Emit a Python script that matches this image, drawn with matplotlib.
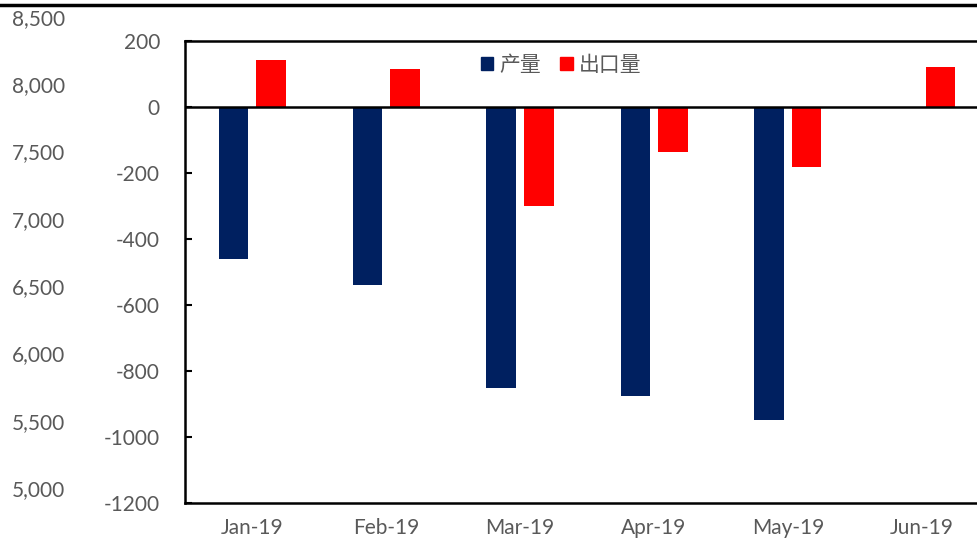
import numpy as np
import matplotlib
matplotlib.use("Agg")
import matplotlib.pyplot as plt
from matplotlib.lines import Line2D
from matplotlib.patches import Patch

plt.rcParams["font.family"] = ["Lato", "Noto Sans CJK SC", "DejaVu Sans"]

months = ["Jan-19", "Feb-19", "Mar-19", "Apr-19", "May-19", "Jun-19"]
production = [-460, -539, -851, -876, -948, 0]
exports = [142, 115, -300, -136, -182, 121]
inner_ticks = [200, 0, -200, -400, -600, -800, -1000, -1200]
outer_ticks = [8500, 8000, 7500, 7000, 6500, 6000, 5500, 5000]

NAVY = "#002060"
RED = "#FF0000"
GRAY = "#595959"

W, H = 978, 542
fig = plt.figure(figsize=(W / 100, H / 100), dpi=100)

# background axis (leftover labels from an underlying chart)
bg = fig.add_axes([68 / W, 1 - 488 / H, 0.01, (488 - 17) / H])
bg.set_ylim(5000, 8500)
bg.set_yticks(outer_ticks)
bg.set_yticklabels([f"{v:,}" for v in outer_ticks])
bg.set_xticks([])
bg.tick_params(axis="y", length=0, pad=2, labelsize=15, labelcolor=GRAY)
bg.set_frame_on(False)

# main chart
ax = fig.add_axes([185 / W, 1 - 503 / H, 804 / W, (503 - 41) / H])
x = np.arange(len(months))
width = 0.22
ax.bar(x - 0.14, production, width, color=NAVY, label="产量", zorder=2)
ax.bar(x + 0.14, exports, width, color=RED, label="出口量", zorder=2)
ax.axhline(0, color="black", lw=1.8, zorder=3)

ax.set_xlim(-0.5, 5.5)
ax.set_ylim(-1200, 200)
ax.set_yticks(inner_ticks)
ax.set_yticklabels([str(v) for v in inner_ticks])
ax.set_xticks(x)
ax.set_xticklabels(months)
ax.tick_params(axis="y", direction="in", length=5, width=1.5, pad=18,
               labelsize=15, labelcolor=GRAY)
ax.tick_params(axis="x", length=0, pad=11, labelsize=15, labelcolor=GRAY)
for side in ["left", "bottom", "top"]:
    ax.spines[side].set_color("black")
    ax.spines[side].set_linewidth(1.8)
ax.spines["right"].set_visible(False)

handles = [Patch(color=NAVY), Patch(color=RED)]
leg = fig.legend(handles, ["产量", "出口量"], loc="center left",
                 bbox_to_anchor=(462 / W, 1 - 65 / H), ncol=2, frameon=False,
                 handlelength=0.6, handleheight=0.6, handletextpad=0.3,
                 columnspacing=0.9, prop={"family": "Noto Sans CJK SC", "size": 15})
for t in leg.get_texts():
    t.set_color(GRAY)

# thick rule at the top edge
fig.add_artist(Line2D([0, 1], [1 - 5 / H, 1 - 5 / H], color="black", lw=2.5,
                      transform=fig.transFigure))

fig.savefig("out.png", dpi=100)
